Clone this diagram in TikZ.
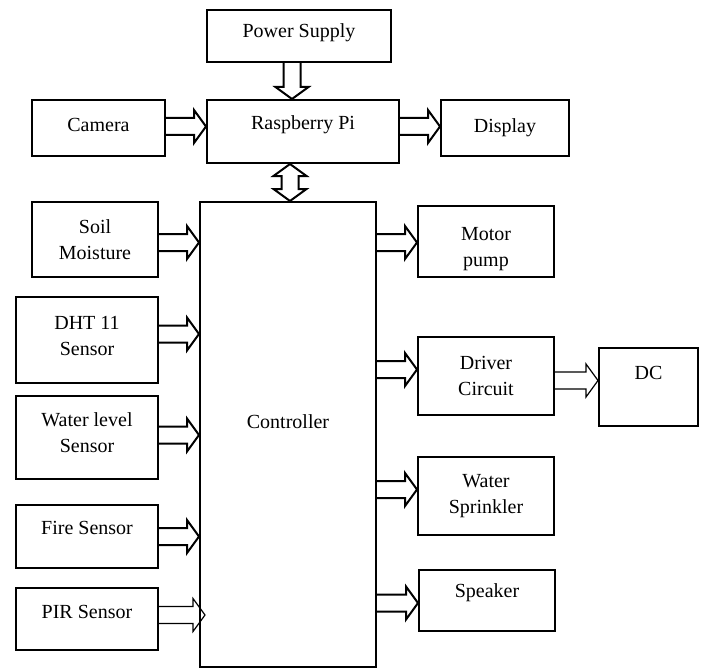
\documentclass[tikz,border=0pt]{standalone}
\usepackage{fontspec}
\setmainfont{Liberation Serif}
\usetikzlibrary{calc}

% hollow block arrows
\newcommand\shaftw{4.25pt}
\newcommand\headw{8.25pt}
\newcommand\headl{6pt}
\newcommand\fat[3][]{%
  \coordinate (fa) at (#2);
  \coordinate (fb) at (#3);
  \coordinate (fh) at ($(fb)!\headl!(fa)$);
  \draw[fatline,#1] ($(fa)!\shaftw!90:(fb)$) -- ($(fh)!\shaftw!-90:(fa)$)
    -- ($(fh)!\headw!-90:(fa)$) -- (fb) -- ($(fh)!\headw!90:(fa)$)
    -- ($(fh)!\shaftw!90:(fa)$) -- ($(fa)!\shaftw!-90:(fb)$);}
\newcommand\dfat[3][]{%
  \coordinate (fa) at (#2);
  \coordinate (fb) at (#3);
  \coordinate (ga) at ($(fa)!\headl!(fb)$);
  \coordinate (gb) at ($(fb)!\headl!(fa)$);
  \draw[fatline,#1] (fa) -- ($(ga)!\headw!90:(fb)$) -- ($(ga)!\shaftw!90:(fb)$)
    -- ($(gb)!\shaftw!-90:(fa)$) -- ($(gb)!\headw!-90:(fa)$) -- (fb)
    -- ($(gb)!\headw!90:(fa)$) -- ($(gb)!\shaftw!90:(fa)$)
    -- ($(ga)!\shaftw!-90:(fb)$) -- ($(ga)!\headw!-90:(fb)$) -- cycle;}

\begin{document}
\begin{tikzpicture}[x=0.5pt,y=-0.5pt,every node/.style={font=\fontsize{10}{13}\selectfont},box/.style={draw,line width=1pt,align=center,inner sep=2pt},fatline/.style={line width=1pt,line join=miter},thin/.style={line width=0.6pt}]
\useasboundingbox (0,0) rectangle (704,668);
% top row
\node[box,minimum width=92pt,minimum height=26pt,text depth=5.2pt] (power) at (299,36) {Power Supply};
\node[box,minimum width=96pt,minimum height=31.5pt,text depth=8.7pt] (pi) at (303,131.5) {Raspberry Pi};
\node[box,minimum width=66.5pt,minimum height=28pt,text depth=3pt] (cam) at (98.5,128) {Camera};
\node[box,minimum width=64pt,minimum height=28pt] (disp) at (505,128) {Display};
\node[box,minimum width=88pt,minimum height=232.5pt,text depth=12.5pt] (ctrl) at (288,434.5) {Controller};
% inputs
\node[box,minimum width=63pt,minimum height=37.5pt] (soil) at (95,239.5) {Soil\\Moisture};
\node[box,minimum width=71pt,minimum height=43pt] (dht) at (87,340) {DHT 11\\Sensor\rule[-4pt]{0pt}{4pt}};
\node[box,minimum width=71pt,minimum height=41.5pt] (water) at (87,437.5) {Water level\\Sensor\rule[-5pt]{0pt}{5pt}};
\node[box,minimum width=71pt,minimum height=31.5pt,text depth=8.5pt] (fire) at (87,536.5) {Fire Sensor};
\node[box,minimum width=71pt,minimum height=31pt,text depth=7pt] (pir) at (87,619) {PIR Sensor};
% outputs
\node[box,minimum width=68pt,minimum height=35.5pt] (motor) at (486,241.5) {\rule{0pt}{13.8pt}Motor\\pump};
\node[box,minimum width=68pt,minimum height=39pt] (driver) at (486,376) {Driver\\Circuit};
\node[box,minimum width=49.5pt,minimum height=39pt,text depth=14pt] (dc) at (648.5,387) {DC};
\node[box,minimum width=68pt,minimum height=39pt] (spr) at (486,496) {Water\\Sprinkler};
\node[box,minimum width=68pt,minimum height=30.5pt,text depth=9.7pt] (spk) at (487,600.5) {Speaker};
% connectors
\fat{[xshift=-3.5pt]power.south}{fa |- pi.north}
\fat{[yshift=0.75pt]cam.east}{fa -| pi.west}
\fat{[yshift=2.5pt]pi.east}{fa -| disp.west}
\dfat{[xshift=-6.5pt]pi.south}{fa |- ctrl.north}
\fat{[yshift=-1.5pt]soil.east}{fa -| ctrl.west}
\fat{[yshift=3pt]dht.east}{fa -| ctrl.west}
\fat{[yshift=1.25pt]water.east}{fa -| ctrl.west}
\fat{fire.east}{fa -| ctrl.west}
\fat[thin]{[yshift=2pt]pir.east}{[xshift=3pt]fa -| ctrl.west}
\fat{[yshift=-0.5pt]ctrl.east |- motor.west}{fa -| motor.west}
\fat{[yshift=3.25pt]ctrl.east |- driver.west}{fa -| driver.west}
\fat{[yshift=3.25pt]ctrl.east |- spr.west}{fa -| spr.west}
\fat{[yshift=-1.25pt]ctrl.east |- spk.west}{fa -| spk.west}
\fat[thin]{[yshift=-2.25pt]driver.east}{fa -| dc.west}
\end{tikzpicture}
\end{document}
